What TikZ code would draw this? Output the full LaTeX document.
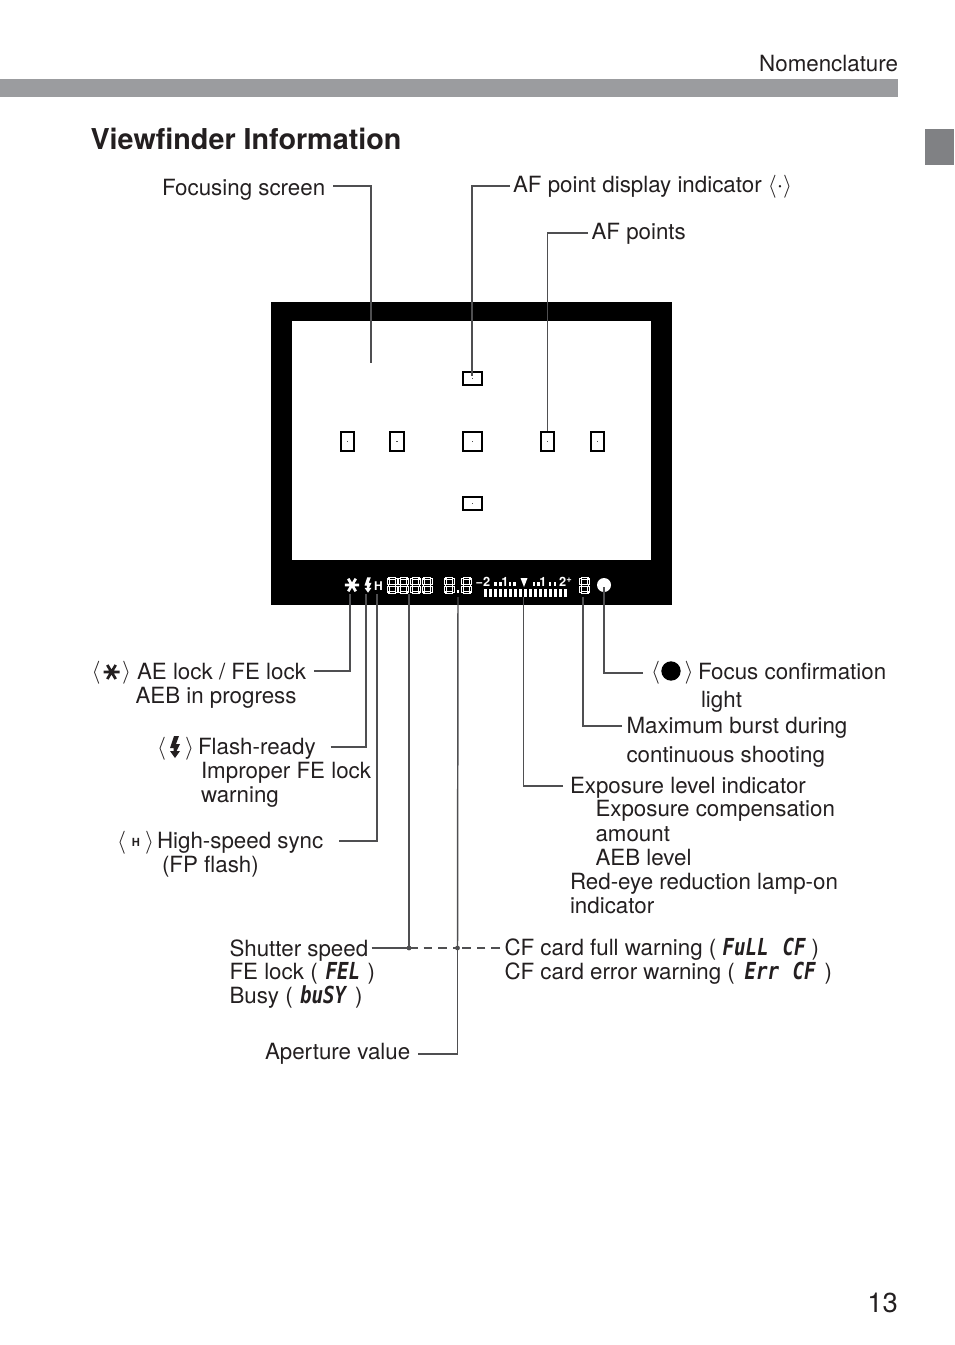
\documentclass[tikz,border=0pt]{standalone}
\usepackage{graphicx}
\usepackage{fontspec}
\setmainfont{TeX Gyre Heros}
\newfontfamily\segfont{DejaVu Sans Mono}
\newcommand{\segtxt}[1]{\scalebox{1}[1.22]{#1}}
\definecolor{ink}{HTML}{231F20}
\definecolor{leadc}{HTML}{4F4F51}
\definecolor{barc}{HTML}{9B9C9F}
\definecolor{tabc}{HTML}{808184}
\tikzset{
  lab/.style={anchor=base west,inner sep=0pt,outer sep=0pt,text=ink,font=\fontsize{16.75}{20}\selectfont},
  labr/.style={lab,anchor=base east},
  seg/.style={anchor=base west,inner sep=0pt,outer sep=0pt,text=ink,font=\fontsize{14.4}{16}\selectfont\segfont\bfseries\itshape},
  leader/.style={draw=leadc,line width=1.1pt},
  leaderd/.style={leader,dash pattern=on 6.5pt off 4.5pt},
  junction/.style={circle,fill=leadc,inner sep=0pt,minimum size=3.6pt},
  afnar/.style={draw=black,fill=white,line width=1.3pt,inner sep=0pt,minimum width=10pt,minimum height=14.5pt},
  afwide/.style={afnar,minimum width=14.5pt},
  afshort/.style={afnar,minimum width=14.5pt,minimum height=10pt},
  vftext/.style={inner sep=0pt,outer sep=0pt,text=white,font=\fontsize{9.6}{11}\selectfont\bfseries},
  pics/starsym/.style={code={
    \draw[#1,line width=2pt] (-8,0)--(8,0) (-4.2,-7)--(4.2,7) (-4.2,7)--(4.2,-7);}},
  pics/boltsym/.style={code={
    \fill[#1] (-1,-11)--(4,-11)--(1,-3)--(5,-3)--(1.5,4)--(5,4)--(0,11)--(-5,4)--(-1.5,4)--(-1.5,1)--(-5,1)--cycle;}},
  pics/segdigit/.style={code={
    \draw[white,line width=0.4pt] (1.5,0) rectangle (8.5,2) (1.5,7) rectangle (8.5,9) (1.5,14) rectangle (8.5,16)
      (0,1) rectangle (2,7) (8,1) rectangle (10,7) (0,9) rectangle (2,15) (8,9) rectangle (10,15);}}
}
\begin{document}
\begin{tikzpicture}[x=0.75pt,y=-0.75pt]
\useasboundingbox (0,0) rectangle (954,1345);
% page furniture
\fill[barc] (0,79) rectangle (898,97);
\fill[tabc] (925,129) rectangle (954,165);
\node[labr] (nom) at (898,72) {Nomenclature};
\node[lab,font=\fontsize{21.55}{26}\selectfont\bfseries] (title) at (90.5,149) {Viewfinder Information};
\node[labr,font=\fontsize{20.6}{24}\selectfont] (pageno) at (898,1312.5) {13};
% viewfinder
\fill[black] (271,302) rectangle (672,605);
\fill[white] (292,321) rectangle (651,560);
\node[afshort] (aftop) at (472.5,378.5) {};
\node[afnar] (afl2) at (347.5,441.5) {};
\node[afnar] (afl1) at (397,441.5) {};
\node[afwide] (afc) at (472.5,441.5) {};
\node[afnar] (afr1) at (547.5,441.5) {};
\node[afnar] (afr2) at (597.5,441.5) {};
\node[afshort] (afbot) at (472.5,503.5) {};
\foreach \n in {aftop,afl2,afl1,afc,afr1,afr2,afbot}
  \fill[black!70] ([shift={(-.6,-.6)}]\n.center) rectangle ([shift={(.6,.6)}]\n.center);
% viewfinder display
\pic[scale=0.9] at (352,585) {starsym=white};
\pic[scale=0.7] at (368,585) {boltsym=white};
\node[vftext,font=\fontsize{9}{10}\selectfont\bfseries] (vfh) at (378.5,586.5) {H};
\foreach \x in {387,398.7,410.4,422.1} \pic at (\x,577) {segdigit};
\pic at (444,577) {segdigit};
\pic at (461.5,577) {segdigit};
\fill[white] (456.5,590) rectangle (458.7,593);
\pic at (579.5,577.5) {segdigit};
\node[vftext] (sm2) at (483,581.5) {−2};
\node[vftext] (sm1) at (505,581.5) {1};
\node[vftext] (sp1) at (543,581.5) {1};
\node[vftext] (sp2) at (565.5,581.5) {2\raisebox{2.5pt}{\fontsize{7}{7}\selectfont+}};
\foreach \x in {495.7,500.7,510,514.5,534,538.5,550,555}
  \fill[white] (\x-1.4,582) rectangle (\x+1.4,585.5);
\fill[white] (520.5,578) -- (527.5,578) -- (524,587) -- cycle;
\foreach \i in {0,...,16}
  \fill[white] (485+\i*5-1.5,589) rectangle (485+\i*5+1.5,597);
\node[circle,fill=white,inner sep=0pt,minimum size=10.5pt] (vfdot) at (604,585) {};
% anchors on the display
\coordinate (vfa) at (350,594);
\coordinate (vfb) at (366,594);
\coordinate (vfc) at (377,594);
\coordinate (vfd) at (409,594);
\coordinate (vfe) at (458,597);
\coordinate (vff) at (523.5,597);
\coordinate (vfg) at (583,597);
\coordinate (vfk) at (604,587);
\coordinate (fsend) at (371,363);
\coordinate (aftopin) at (472,376);
% labels
\node[lab] (fs) at (162,195) {Focusing screen};
\node[lab] (afd) at (513,192) {AF point display indicator $\langle\cdot\rangle$};
\node[lab] (afp) at (591.5,239) {AF points};
\node[lab] (brA) at (91.5,678) {$\langle$};
\pic at (111.5,672) {starsym=ink};
\node[lab] (brAr) at (122,678) {$\rangle$};
\node[lab] (ae) at (137,679) {AE lock / FE lock};
\node[lab] (aeb) at (135.5,703) {AEB in progress};
\node[lab] (brB) at (157,754) {$\langle$};
\pic at (175,747) {boltsym=ink};
\node[lab] (brBr) at (185,754) {$\rangle$};
\node[lab] (fl) at (198,754) {Flash-ready};
\node[lab] (fe) at (201,778) {Improper FE lock};
\node[lab] (wa) at (201,802) {warning};
\node[lab] (brC) at (117,848) {$\langle$};
\node[lab,anchor=center,font=\fontsize{8.4}{9}\selectfont\bfseries] (ich) at (136,842.5) {H};
\node[lab] (brCr) at (145,848) {$\rangle$};
\node[lab] (hs) at (157,848) {High-speed sync};
\node[lab] (fp) at (162,872) {(FP flash)};
\node[lab] (brD) at (651,678) {$\langle$};
\node[circle,fill=black,inner sep=0pt,minimum size=14.5pt] (icd) at (671,671) {};
\node[lab] (brDr) at (684.5,678) {$\rangle$};
\node[lab] (fc) at (698,679) {Focus confirmation};
\node[lab] (li) at (701,707) {light};
\node[lab] (mb) at (626.5,733) {Maximum burst during};
\node[lab] (cs) at (626.5,762) {continuous shooting};
\node[lab] (el) at (570,793) {Exposure level indicator};
\node[lab] (ec) at (595.5,816.5) {Exposure compensation};
\node[lab] (am) at (595.5,841) {amount};
\node[lab] (ab) at (595.5,865) {AEB level};
\node[lab] (re) at (570,889) {Red-eye reduction lamp-on};
\node[lab] (in) at (570,913) {indicator};
\node[lab] (ss) at (229.5,956) {Shutter speed};
\node[lab] (fl2) at (229.5,979) {FE lock (};
\node[seg] (sfel) at (325.5,979) {\segtxt{FEL}};
\node[lab] (fl3) at (367.5,979) {)};
\node[lab] (bu) at (229.5,1003) {Busy (};
\node[seg] (sbus) at (300,1003) {\segtxt{buSY}};
\node[lab] (bu3) at (355,1003) {)};
\node[lab] (ap) at (265,1059) {Aperture value};
\node[lab] (cf1) at (504.5,955) {CF card full warning (};
\node[seg] (sfu) at (722.5,955) {\segtxt{FuLL}};
\node[seg] (scf1) at (782.5,955) {\segtxt{CF}};
\node[lab] (cf1e) at (811.5,955) {)};
\node[lab] (cf2) at (504.5,979) {CF card error warning (};
\node[seg] (ser) at (744.5,979) {\segtxt{Err}};
\node[seg] (scf2) at (792.5,979) {\segtxt{CF}};
\node[lab] (cf2e) at (824.5,979) {)};
% junctions
\node[junction] (j1) at (409,948) {};
\node[junction] (j2) at (457.5,948) {};
% connectors
\draw[leader] ([shift={(8,-9)}]fs.base east) -| (fsend);
\draw[leader] ([shift={(-3,-6)}]afd.base west) -| (aftopin);
\draw[leader] ([shift={(-3.5,-6)}]afp.base west) -| (afr1.north);
\draw[leader] ([shift={(8,-8)}]ae.base east) -| (vfa);
\draw[leader] ([shift={(15,-7)}]fl.base east) -| (vfb);
\draw[leader] ([shift={(16,-7)}]hs.base east) -| (vfc);
\draw[leader] (vfd) -- (j1.center);
\draw[leader] ([shift={(3.5,-8)}]ss.base east) -- (j1.center);
\draw[leaderd] (j1.center) -- (j2.center);
\draw[leaderd] ([shift={(-4.5,-7)}]cf1.base west) -- (j2.center);
\draw[leader] (vfe) -- (j2.center);
\draw[leader] ([shift={(8,-5)}]ap.base east) -| (j2.center);
\draw[leader] ([shift={(-7,-7)}]el.base west) -| (vff);
\draw[leader] ([shift={(-4.5,-7)}]mb.base west) -| (vfg);
\draw[leader] ([shift={(-8,-5)}]brD.base west) -| (vfk);
\end{tikzpicture}
\end{document}
